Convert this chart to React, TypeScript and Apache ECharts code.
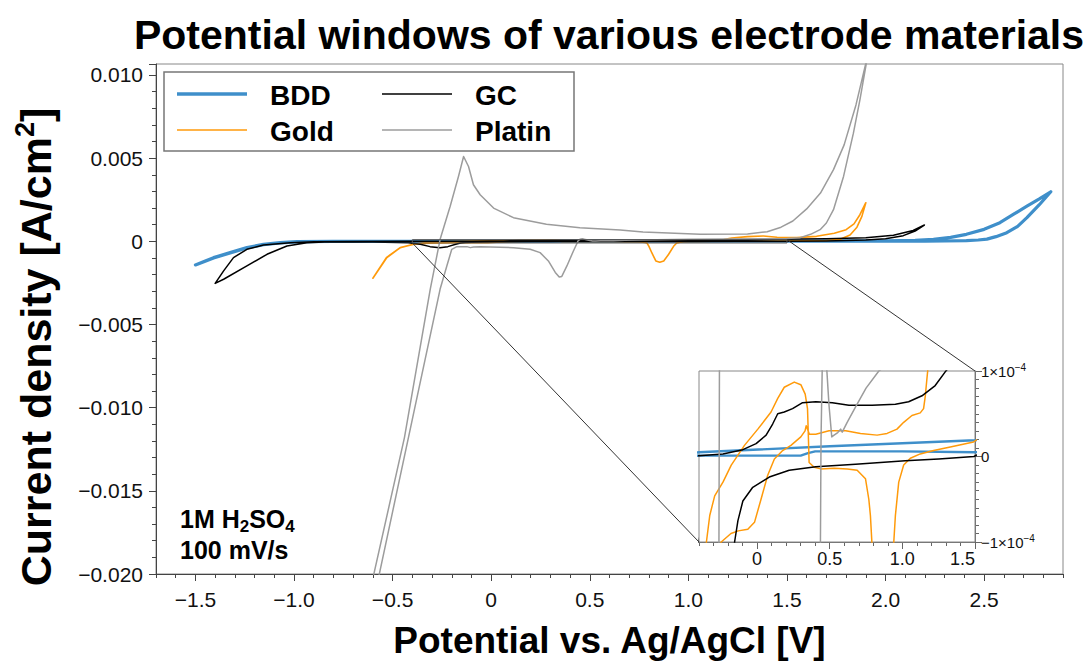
import React, { useEffect, useRef } from "react";
import * as echarts from "echarts";

type Pt = [number, number];

// Potential [V] vs current density [A/cm2]
const bdd: Pt[] = [
  [-1.5, -0.00142], [-1.45, -0.00118], [-1.408, -0.00098], [-1.324, -0.00068], [-1.239, -0.00038],
  [-1.155, -0.00018], [-1.07, -0.00008], [-0.985, -0.00002], [-0.8, -0.000003], [-0.4, 0.000001],
  [0.0, 0.000001], [0.3, 0.000001], [0.35, 0.000004], [0.4, 0.000006], [1.0, 0.000006],
  [1.5, 0.000005], [2.0, 0.000008], [2.2, 0.000012], [2.3, 0.00002], [2.41, 0.00004],
  [2.47, 0.00008], [2.514, 0.00013], [2.56, 0.00028], [2.615, 0.00052], [2.67, 0.0009],
  [2.717, 0.00142], [2.78, 0.0022], [2.838, 0.00298], [2.78, 0.00255], [2.717, 0.00211],
  [2.65, 0.00163], [2.58, 0.00112], [2.5, 0.00072], [2.41, 0.00042], [2.33, 0.00024],
  [2.243, 0.00012], [2.15, 0.00006], [2.0, 0.00003], [1.9, 0.000025], [1.5, 0.000019],
  [0.5, 0.000012], [-0.4, 0.000005], [-0.8, -0.000002], [-0.985, -0.00003], [-1.07, -0.0001],
  [-1.155, -0.0002], [-1.239, -0.0004], [-1.324, -0.0007], [-1.408, -0.001], [-1.49, -0.00138],
];

const gold: Pt[] = [
  [1.9, 0.00232], [1.88, 0.0015], [1.855, 0.00085], [1.82, 0.00038], [1.77, 0.00013],
  [1.7, 0.00005], [1.6, 0.00003], [1.49, 0.000017], [1.33, 0.000011], [1.215, 0.000007],
  [1.123, 0.000003], [1.055, -0.000002], [1.009, -0.00001], [0.975, -0.00003], [0.952, -0.000069],
  [0.941, -0.0001], [0.925, -0.0003], [0.9, -0.00078], [0.875, -0.00118], [0.855, -0.00126],
  [0.835, -0.00118], [0.815, -0.0007], [0.8, -0.0003], [0.79, -0.0001], [0.78, -0.000069],
  [0.769, -0.00005], [0.746, -0.000026], [0.689, -0.000016], [0.621, -0.0000145], [0.53, -0.0000137],
  [0.438, -0.0000145], [0.393, -0.0000125], [0.358, -0.000007], [0.352, 0.000029], [0.347, 0.000056],
  [0.331, 0.000073], [0.301, 0.000084], [0.256, 0.000087], [0.187, 0.000081], [0.142, 0.000068],
  [0.096, 0.000052], [0.005, 0.000032], [-0.087, 0.000013], [-0.178, -0.00001], [-0.235, -0.00003],
  [-0.292, -0.000046], [-0.326, -0.000069], [-0.349, -0.0001], [-0.394, -0.00018], [-0.461, -0.00038],
  [-0.529, -0.00098], [-0.6, -0.00222], [-0.53, -0.00096], [-0.46, -0.00037], [-0.39, -0.00017],
  [-0.32, -0.00012], [-0.247, -0.0001], [-0.18, -0.00009], [-0.13, -0.000087], [-0.064, -0.000085],
  [-0.018, -0.000077], [0.027, -0.00005], [0.073, -0.000022], [0.119, -0.000003], [0.176, 0.000007],
  [0.233, 0.000013], [0.301, 0.000023], [0.33, 0.00003], [0.338, 0.000036], [0.36, 0.000026],
  [0.404, 0.000026], [0.495, 0.00003], [0.61, 0.00003], [0.712, 0.000027], [0.826, 0.000025],
  [0.895, 0.000027], [0.963, 0.000032], [1.009, 0.00004], [1.066, 0.000048], [1.123, 0.000051],
  [1.146, 0.000056], [1.158, 0.000071], [1.169, 0.000091], [1.18, 0.00011], [1.22, 0.0002],
  [1.3, 0.00028], [1.38, 0.00032], [1.45, 0.00024], [1.55, 0.00022], [1.65, 0.0003],
  [1.74, 0.00048], [1.8, 0.0007], [1.84, 0.00105], [1.87, 0.0016], [1.9, 0.00232],
];

const gc: Pt[] = [
  [2.197, 0.00098], [2.15, 0.00062], [2.09, 0.00034], [2.0, 0.00016], [1.9, 0.00008],
  [1.7, 0.00002], [1.493, 0.0], [1.25, -0.000003], [1.02, -0.000005], [0.678, -0.000009],
  [0.404, -0.000012], [0.221, -0.000016], [0.084, -0.000024], [-0.03, -0.000036], [-0.098, -0.000052],
  [-0.132, -0.000075], [-0.155, -0.0001], [-0.18, -0.00018], [-0.22, -0.00032], [-0.26, -0.00038],
  [-0.31, -0.00032], [-0.36, -0.00018], [-0.42, -0.00008], [-0.6, -0.00004], [-0.816, -0.00002],
  [-0.935, -0.00008], [-1.036, -0.00028], [-1.137, -0.00078], [-1.239, -0.00148], [-1.357, -0.00228],
  [-1.4, -0.00253], [-1.357, -0.00178], [-1.307, -0.00098], [-1.239, -0.00048], [-1.155, -0.00022],
  [-1.019, -0.00008], [-0.9, -0.00002], [-0.7, -0.000004], [-0.4, 0.000001], [-0.235, 0.000003],
  [-0.098, 0.000008], [-0.007, 0.000015], [0.062, 0.000025], [0.107, 0.000038], [0.142, 0.00005],
  [0.187, 0.000052], [0.244, 0.000056], [0.313, 0.000063], [0.404, 0.000064], [0.518, 0.000063],
  [0.632, 0.00006], [0.792, 0.00006], [0.952, 0.000061], [1.043, 0.000064], [1.135, 0.000071],
  [1.226, 0.000083], [1.295, 0.000099], [1.45, 0.00013], [1.7, 0.00016], [1.9, 0.00022],
  [2.04, 0.00036], [2.14, 0.00065], [2.197, 0.00098],
];

const platin: Pt[] = [
  [1.91, 0.0112], [1.87, 0.0085], [1.837, 0.0065], [1.787, 0.0039], [1.736, 0.0019],
  [1.7, 0.0011], [1.668, 0.0007], [1.62, 0.00042], [1.567, 0.00022], [1.5, 0.00017],
  [1.2, 0.00014], [1.0, 0.00012], [0.838, 0.0001], [0.75, 0.00008], [0.678, 0.000058],
  [0.62, 0.00004], [0.586, 0.0000285], [0.575, 0.000032], [0.555, 0.000028], [0.53, 0.000025],
  [0.514, 0.000023], [0.495, 0.00006], [0.473, 0.00012], [0.462, 0.00016], [0.45, 0.00012],
  [0.44, 0.00002], [0.436, -0.0001], [0.417, -0.00058], [0.384, -0.00148], [0.358, -0.00211],
  [0.345, -0.00215], [0.325, -0.00187], [0.29, -0.00118], [0.248, -0.00068], [0.198, -0.00048],
  [0.113, -0.00038], [-0.056, -0.00032], [-0.09, -0.00034], [-0.106, -0.00038], [-0.123, -0.00032],
  [-0.174, -0.00032], [-0.2, -0.00048], [-0.225, -0.00148], [-0.259, -0.00287], [-0.4, -0.0107],
  [-0.571, -0.0202], [-0.6, -0.0216], [-0.625, -0.0216], [-0.597, -0.0201], [-0.44, -0.0118],
  [-0.309, -0.00287], [-0.259, 0.00012], [-0.208, 0.00211], [-0.166, 0.0039], [-0.14, 0.0051],
  [-0.115, 0.0045], [-0.09, 0.0034], [-0.056, 0.0028], [0.012, 0.002], [0.113, 0.00142],
  [0.28, 0.00102], [0.45, 0.00082], [0.654, 0.00068], [0.77, 0.00056], [1.06, 0.00042],
  [1.3, 0.00044], [1.4, 0.00058], [1.47, 0.00085], [1.53, 0.00122], [1.6, 0.00195],
  [1.67, 0.0029], [1.736, 0.00431], [1.79, 0.0058], [1.85, 0.0082], [1.91, 0.0112],
];

const seriesNames = ["BDD", "Gold", "GC", "Platin"];
const seriesData = [bdd, gold, gc, platin];
const seriesColors = ["#3f8fca", "#ff9a0a", "#000000", "#9c9c9c"];
const mainWidths = [3.2, 1.6, 1.5, 1.5];
const insetWidths = [2.4, 1.5, 1.5, 1.5];

const mainXRange: Pt = [-1.7, 2.9];
const mainYRange: Pt = [-0.02, 0.01066];
const mainXTicks = [-1.5, -1.0, -0.5, 0, 0.5, 1.0, 1.5, 2.0, 2.5];
const zoomXRange: Pt = [-0.4, 1.5];
const zoomYRange: Pt = [-0.0001, 0.0001];
const insetXMajor = [0, 0.5, 1.0, 1.5];

const FONT = "'Liberation Sans', Helvetica, Arial, sans-serif";
const minus = (s: string) => s.replace("-", "\u2212");

export default function App() {
  const ref = useRef<HTMLDivElement>(null);

  useEffect(() => {
    if (!ref.current) return;
    const chart = echarts.init(ref.current, undefined, { renderer: "svg" });
    const axisColor = "#444";
    const series: any[] = [];
    seriesNames.forEach((n, i) => {
      series.push({
        name: n, type: "line", xAxisIndex: 0, yAxisIndex: 0, data: seriesData[i],
        showSymbol: false, symbol: "none", clip: true, silent: true, z: 2 + i,
        lineStyle: { color: seriesColors[i], width: mainWidths[i], join: "round", cap: "round" },
        itemStyle: { color: seriesColors[i] },
      });
    });
    seriesNames.forEach((n, i) => {
      series.push({
        name: n, type: "line", xAxisIndex: 2, yAxisIndex: 1, data: seriesData[i],
        showSymbol: false, symbol: "none", clip: true, silent: true, z: 12 + i,
        lineStyle: { color: seriesColors[i], width: insetWidths[i], join: "round", cap: "round" },
        itemStyle: { color: seriesColors[i] },
      });
    });

    const labelStyle = { color: "#111", fontFamily: FONT };

    const option: any = {
      animation: false,
      title: {
        text: "Potential windows of various electrode materials",
        left: 604, top: 9, textAlign: "center",
        textStyle: { fontFamily: FONT, fontSize: 41, fontWeight: "bold", color: "#000" },
      },
      grid: [
        { left: 156, top: 64, width: 907, height: 514, show: true, borderColor: "#888", borderWidth: 1, backgroundColor: "transparent", z: 0 },
        { left: 699, top: 371, width: 276, height: 171, show: true, borderColor: "#888", borderWidth: 1, backgroundColor: "#fff", z: 10 },
      ],
      xAxis: [
        {
          type: "value", gridIndex: 0, min: mainXRange[0], max: mainXRange[1], position: "bottom",
          axisLine: { show: true, onZero: false, lineStyle: { color: axisColor, width: 1 } },
          axisTick: { show: true, inside: false, length: 7, customValues: mainXTicks, lineStyle: { color: axisColor } },
          axisLabel: {
            customValues: mainXTicks, fontSize: 21, margin: 15, ...labelStyle,
            formatter: (v: number) => (Math.abs(v) < 1e-9 ? "0" : minus(v.toFixed(1))),
          },
          splitLine: { show: false },
          name: "Potential vs. Ag/AgCl [V]", nameLocation: "middle", nameGap: 48,
          nameTextStyle: { fontFamily: FONT, fontSize: 37, fontWeight: "bold", color: "#000" },
        },
        {
          type: "value", gridIndex: 0, min: mainXRange[0], max: mainXRange[1], interval: 0.1, position: "bottom",
          axisLine: { show: false, onZero: false },
          axisTick: { show: true, inside: false, length: 4, lineStyle: { color: axisColor } },
          axisLabel: { show: false }, splitLine: { show: false },
        },
        {
          type: "value", gridIndex: 1, min: zoomXRange[0], max: zoomXRange[1], interval: 0.1, position: "bottom",
          axisLine: { show: true, onZero: false, lineStyle: { color: "#666" } },
          axisTick: { show: true, inside: false, length: 4, lineStyle: { color: "#666" } },
          axisLabel: {
            fontSize: 18, margin: 8, showMaxLabel: true, showMinLabel: true, alignMaxLabel: "right", ...labelStyle,
            formatter: (v: number) => {
              if (Math.abs(v * 2 - Math.round(v * 2)) > 1e-6) return "";
              return Math.abs(v) < 1e-9 ? "0" : v.toFixed(1);
            },
          },
          splitLine: { show: false },
        },
        {
          type: "value", gridIndex: 1, min: zoomXRange[0], max: zoomXRange[1], position: "bottom",
          axisLine: { show: false, onZero: false },
          axisTick: { show: true, inside: false, length: 7, customValues: insetXMajor, lineStyle: { color: "#666" } },
          axisLabel: { show: false }, splitLine: { show: false },
        },
      ],
      yAxis: [
        {
          type: "value", gridIndex: 0, min: mainYRange[0], max: mainYRange[1], interval: 0.005, position: "left",
          axisLine: { show: true, onZero: false, lineStyle: { color: axisColor, width: 1 } },
          axisTick: { show: true, inside: false, length: 7, lineStyle: { color: axisColor } },
          minorTick: { show: true, splitNumber: 5, length: 4, lineStyle: { color: axisColor } },
          axisLabel: {
            fontSize: 21, margin: 13, ...labelStyle,
            formatter: (v: number) => (Math.abs(v) < 1e-12 ? "0" : minus(v.toFixed(3))),
          },
          splitLine: { show: false }, minorSplitLine: { show: false },
        },
        {
          type: "value", gridIndex: 1, min: zoomYRange[0], max: zoomYRange[1], interval: 0.0001, position: "right",
          axisLine: { show: true, onZero: false, lineStyle: { color: "#666" } },
          axisTick: { show: true, inside: false, length: 7, lineStyle: { color: "#666" } },
          minorTick: { show: true, splitNumber: 10, length: 4, lineStyle: { color: "#666" } },
          axisLabel: {
            fontSize: 15, margin: 6, ...labelStyle, lineHeight: 18,
            formatter: (v: number) => {
              if (Math.abs(v) < 1e-9) return "0";
              return (v > 0 ? "1×10" : "\u22121×10") + "{sup|\u22124}";
            },
            rich: { sup: { fontSize: 10, fontFamily: FONT, color: "#111", verticalAlign: "top", lineHeight: 10 } },
          },
          splitLine: { show: false }, minorSplitLine: { show: false },
        },
      ],
      series,
    };

    chart.setOption(option);

    const px = (idx: number, v: Pt) => chart.convertToPixel({ seriesIndex: idx }, v) as unknown as number[];
    const a = px(0, [zoomXRange[0], zoomYRange[0]]);
    const b = px(0, [zoomXRange[1], zoomYRange[1]]);
    const c = px(4, [zoomXRange[0], zoomYRange[0]]);
    const d = px(4, [zoomXRange[1], zoomYRange[1]]);

    const legendFont = `bold 28px ${FONT}`;
    const legendItems = [
      { name: seriesNames[0], color: seriesColors[0], w: 3.5, lx: 177, ly: 94 },
      { name: seriesNames[1], color: seriesColors[1], w: 1.6, lx: 177, ly: 130 },
      { name: seriesNames[2], color: seriesColors[2], w: 1.5, lx: 382, ly: 94 },
      { name: seriesNames[3], color: seriesColors[3], w: 1.5, lx: 382, ly: 130 },
    ];
    const graphic: any[] = [
      {
        type: "rect", z: 50, silent: true,
        shape: { x: a[0], y: b[1], width: b[0] - a[0], height: a[1] - b[1] },
        style: { fill: "none", stroke: "#555", lineWidth: 1 },
      },
      { type: "line", z: 50, silent: true, shape: { x1: a[0], y1: a[1], x2: c[0], y2: c[1] }, style: { stroke: "#333", lineWidth: 1 } },
      { type: "line", z: 50, silent: true, shape: { x1: b[0], y1: b[1], x2: d[0], y2: d[1] }, style: { stroke: "#333", lineWidth: 1 } },
      {
        type: "rect", z: 60, silent: true,
        shape: { x: 164, y: 72, width: 410, height: 79 },
        style: { fill: "#fff", stroke: "#777", lineWidth: 1.5 },
      },
      {
        type: "text", z: 61, silent: true, x: 36, y: 347, rotation: Math.PI / 2,
        style: {
          text: "Current density [A/cm{sup|2}]", font: `bold 43px ${FONT}`, fill: "#000",
          align: "center", verticalAlign: "middle", lineHeight: 50,
          rich: { sup: { fontFamily: FONT, fontSize: 27, fontWeight: "bold", fill: "#000", verticalAlign: "top", lineHeight: 27 } },
        },
      },
    ];
    legendItems.forEach((it) => {
      graphic.push({ type: "line", z: 61, silent: true, shape: { x1: it.lx, y1: it.ly, x2: it.lx + 70, y2: it.ly }, style: { stroke: it.color, lineWidth: it.w } });
      graphic.push({ type: "text", z: 61, silent: true, x: it.lx + 93, y: it.ly + 1, style: { text: it.name, font: legendFont, fill: "#000", verticalAlign: "middle", align: "left" } });
    });
    graphic.push({
      type: "text", z: 61, silent: true, x: 180, y: 519,
      style: {
        text: "1M H{sub|2}SO{sub|4}", font: `bold 25px ${FONT}`, fill: "#000", verticalAlign: "middle", align: "left", lineHeight: 24,
        rich: { sub: { fontFamily: FONT, fontSize: 17, fontWeight: "bold", fill: "#000", verticalAlign: "bottom", height: 9, lineHeight: 9 } },
      },
    });
    graphic.push({
      type: "text", z: 61, silent: true, x: 180, y: 550,
      style: { text: "100 mV/s", font: `bold 25px ${FONT}`, fill: "#000", verticalAlign: "middle", align: "left", lineHeight: 22 },
    });

    chart.setOption({ graphic });

    return () => chart.dispose();
  }, []);

  return <div ref={ref} style={{ position: "fixed", left: 0, top: 0, width: 1089, height: 664, background: "#fff" }} />;
}
